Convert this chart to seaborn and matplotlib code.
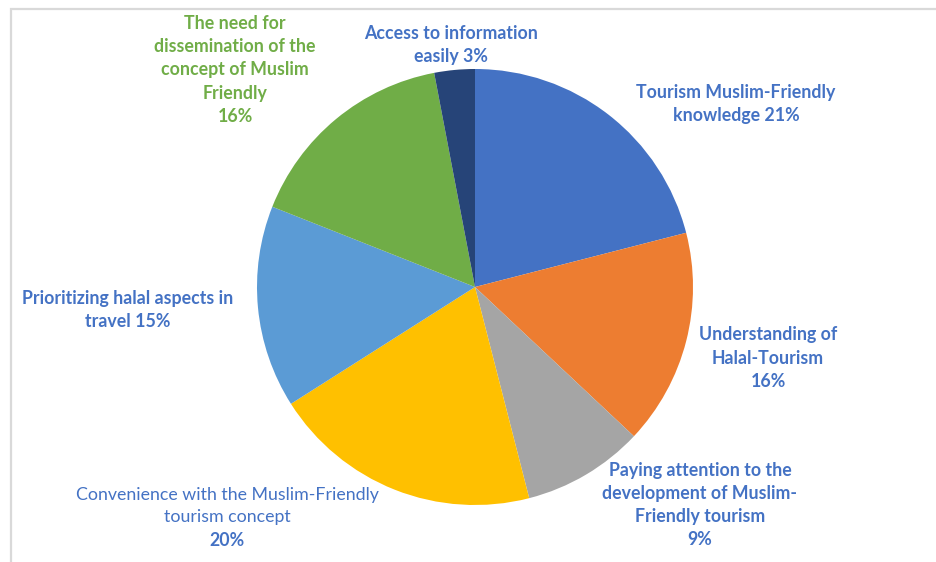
import matplotlib
matplotlib.use("Agg")
import matplotlib.pyplot as plt
import matplotlib.patches as mpatches
import seaborn as sns

sns.set_theme(style="white")
plt.rcParams['font.family'] = ['Lato', 'DejaVu Sans']

# data (clockwise from 12 o'clock)
categories = [
    "Tourism Muslim-Friendly\nknowledge",
    "Understanding of\nHalal-Tourism",
    "Paying attention to the\ndevelopment of Muslim-\nFriendly tourism",
    "Convenience with the Muslim-Friendly\ntourism concept",
    "Prioritizing halal aspects in\ntravel",
    "The need for\ndissemination of the\nconcept of Muslim\nFriendly",
    "Access to information\neasily",
]
shares = [21, 16, 9, 20, 15, 16, 3]
slice_colors = ["#4472C4", "#ED7D31", "#A5A5A5", "#FFC000", "#5B9BD5", "#70AD47", "#264478"]
label_colors = ["#4472C4", "#4472C4", "#4472C4", "#4472C4", "#4472C4", "#70AD47", "#4472C4"]

W, H = 936, 562
cx, cy, r = 475, 287, 218
fs = 12.8
ls = 1.45

fig = plt.figure(figsize=(W / 100, H / 100), dpi=100)
fig.patch.set_facecolor("white")

# outer frame (cropped at right/bottom)
fig.patches.append(mpatches.Rectangle((11 / W, -0.05), 1.1, 1 - 9 / H + 0.05,
                                      transform=fig.transFigure, fill=False,
                                      edgecolor="#D9D9D9", linewidth=1.6))

ax = fig.add_axes([(cx - r) / W, (H - cy - r) / H, 2 * r / W, 2 * r / H])
palette = sns.color_palette(slice_colors)
wedges, _ = ax.pie(shares, colors=palette, startangle=90, counterclock=False,
                   radius=1, wedgeprops=dict(linewidth=0))
ax.set_xlim(-1, 1)
ax.set_ylim(-1, 1)
ax.set_aspect("equal")
ax.axis("off")

# label centres in pixels of the reference layout
label_pos = [(736, 104), (768, 358), (700, 505), (227, 518), (128, 310), (235, 70), (451, 45)]

for i, (cat, val) in enumerate(zip(categories, shares)):
    px, py = label_pos[i]
    x, y = (px - cx) / r, (cy - py) / r
    if i == 3:
        ax.text(x, (cy - 506) / r, cat, ha="center", va="center", fontsize=fs,
                color=label_colors[i], linespacing=ls, clip_on=False)
        ax.text(x, (cy - 541) / r, f"{val}%", ha="center", va="center", fontsize=fs,
                fontweight="bold", color=label_colors[i], clip_on=False)
        continue
    if i in (0, 4, 6):
        txt = f"{cat} {val}%"
    else:
        txt = f"{cat}\n{val}%"
    ax.text(x, y, txt, ha="center", va="center", fontsize=fs, fontweight="bold",
            color=label_colors[i], linespacing=ls, clip_on=False)

fig.savefig("out.png", dpi=100, facecolor="white")
